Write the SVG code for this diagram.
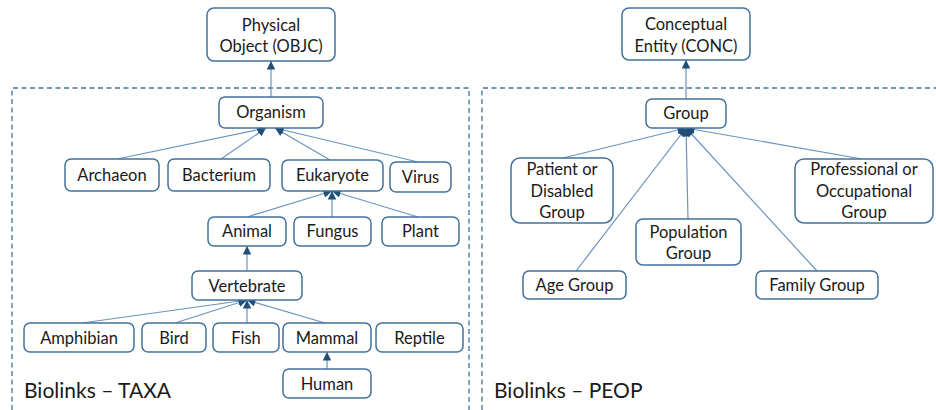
<svg xmlns="http://www.w3.org/2000/svg" width="936" height="410" viewBox="0 0 936 410">
  <defs>
    <marker id="arrow" viewBox="0 0 10 10" refX="10" refY="5" markerWidth="9" markerHeight="8.5" markerUnits="userSpaceOnUse" orient="auto">
      <path d="M0,0 L10,5 L0,10 z" fill="#1f4e79"/>
    </marker>
    <style>
      .node rect { fill: #ffffff; stroke: #41719c; stroke-width: 1.5; }
      .node text { font-family: Lato, "Liberation Sans", sans-serif; font-size: 16.5px; fill: #1a1a1a; text-anchor: middle; }
      .edge { stroke: #6a93c0; stroke-width: 1.2; fill: none; marker-end: url(#arrow); }
      .panel { fill: none; stroke: #41719c; stroke-width: 1.3; stroke-dasharray: 5 3.5; }
      .title { font-family: Lato, "Liberation Sans", sans-serif; font-size: 21px; fill: #1a1a1a; }
    </style>
  </defs>

  <rect width="936" height="410" fill="#ffffff"/>

  <!-- dashed panels -->
  <g id="panels">
    <path class="panel" d="M12,410 L12,88 L469,88 L469,410"/>
    <path class="panel" d="M482,410 L482,88 L936,88"/>
    <text class="title" x="24" y="398">Biolinks – TAXA</text>
    <text class="title" x="494" y="398">Biolinks – PEOP</text>
  </g>

  <!-- connectors -->
  <g id="connectors">
    <line class="edge" x1="271" y1="97" x2="271" y2="61"/>
    <line class="edge" x1="117" y1="159" x2="266" y2="128"/>
    <line class="edge" x1="221" y1="159" x2="266" y2="128"/>
    <line class="edge" x1="330" y1="160" x2="275" y2="128"/>
    <line class="edge" x1="418" y1="162" x2="275" y2="128"/>
    <line class="edge" x1="247" y1="217" x2="332" y2="191"/>
    <line class="edge" x1="332" y1="217" x2="332" y2="191"/>
    <line class="edge" x1="418" y1="217" x2="332" y2="191"/>
    <line class="edge" x1="247" y1="271" x2="247" y2="246"/>
    <line class="edge" x1="82" y1="323" x2="247" y2="300"/>
    <line class="edge" x1="175" y1="323" x2="247" y2="300"/>
    <line class="edge" x1="247" y1="323" x2="247" y2="300"/>
    <line class="edge" x1="325" y1="323" x2="247" y2="300"/>
    <line class="edge" x1="327" y1="369" x2="327" y2="352"/>
    <line class="edge" x1="686" y1="99" x2="686" y2="60"/>
    <line class="edge" x1="563" y1="158" x2="686" y2="128"/>
    <line class="edge" x1="576" y1="271" x2="686" y2="128"/>
    <line class="edge" x1="688" y1="219" x2="686" y2="128"/>
    <line class="edge" x1="817" y1="271" x2="686" y2="128"/>
    <line class="edge" x1="862" y1="159" x2="686" y2="128"/>
  </g>

  <!-- TAXA nodes -->
  <g id="physical-object" class="node">
    <rect x="207" y="8" width="128" height="53" rx="7"/>
    <text x="271" y="31">Physical</text>
    <text x="271" y="52">Object (OBJC)</text>
  </g>
  <g id="organism" class="node">
    <rect x="219" y="97" width="104" height="31" rx="6"/>
    <text x="271" y="118">Organism</text>
  </g>
  <g id="archaeon" class="node">
    <rect x="65" y="159" width="94" height="32" rx="6"/>
    <text x="112" y="181">Archaeon</text>
  </g>
  <g id="bacterium" class="node">
    <rect x="168" y="159" width="102" height="32" rx="6"/>
    <text x="219" y="181">Bacterium</text>
  </g>
  <g id="eukaryote" class="node">
    <rect x="282" y="160" width="101" height="31" rx="6"/>
    <text x="332.5" y="181">Eukaryote</text>
  </g>
  <g id="virus" class="node">
    <rect x="390" y="162" width="61" height="30" rx="6"/>
    <text x="420.5" y="183">Virus</text>
  </g>
  <g id="animal" class="node">
    <rect x="208" y="217" width="78" height="29" rx="6"/>
    <text x="247" y="237">Animal</text>
  </g>
  <g id="fungus" class="node">
    <rect x="294" y="217" width="77" height="29" rx="6"/>
    <text x="332.5" y="237">Fungus</text>
  </g>
  <g id="plant" class="node">
    <rect x="382" y="217" width="77" height="29" rx="6"/>
    <text x="420.5" y="237">Plant</text>
  </g>
  <g id="vertebrate" class="node">
    <rect x="192" y="271" width="110" height="29" rx="6"/>
    <text x="247" y="292">Vertebrate</text>
  </g>
  <g id="amphibian" class="node">
    <rect x="24" y="323" width="110" height="29" rx="6"/>
    <text x="79" y="344">Amphibian</text>
  </g>
  <g id="bird" class="node">
    <rect x="142" y="323" width="64" height="29" rx="6"/>
    <text x="174" y="344">Bird</text>
  </g>
  <g id="fish" class="node">
    <rect x="213" y="323" width="66" height="29" rx="6"/>
    <text x="246" y="344">Fish</text>
  </g>
  <g id="mammal" class="node">
    <rect x="283" y="323" width="88" height="29" rx="6"/>
    <text x="327" y="344">Mammal</text>
  </g>
  <g id="reptile" class="node">
    <rect x="376" y="323" width="87" height="29" rx="6"/>
    <text x="419.5" y="344">Reptile</text>
  </g>
  <g id="human" class="node">
    <rect x="283" y="369" width="88" height="29" rx="6"/>
    <text x="327" y="390">Human</text>
  </g>

  <!-- PEOP nodes -->
  <g id="conceptual-entity" class="node">
    <rect x="622" y="8" width="128" height="52" rx="7"/>
    <text x="686" y="30">Conceptual</text>
    <text x="686" y="52">Entity (CONC)</text>
  </g>
  <g id="group" class="node">
    <rect x="646" y="99" width="80" height="29" rx="6"/>
    <text x="686" y="119">Group</text>
  </g>
  <g id="patient-group" class="node">
    <rect x="511" y="158" width="102" height="65" rx="9"/>
    <text x="562" y="175">Patient or</text>
    <text x="562" y="197">Disabled</text>
    <text x="562" y="218">Group</text>
  </g>
  <g id="professional-group" class="node">
    <rect x="795" y="159" width="138" height="64" rx="9"/>
    <text x="864" y="175">Professional or</text>
    <text x="864" y="197">Occupational</text>
    <text x="864" y="218">Group</text>
  </g>
  <g id="population-group" class="node">
    <rect x="636" y="219" width="105" height="46" rx="7"/>
    <text x="688.5" y="238">Population</text>
    <text x="688.5" y="259">Group</text>
  </g>
  <g id="age-group" class="node">
    <rect x="523" y="271" width="103" height="28" rx="6"/>
    <text x="574.5" y="291">Age Group</text>
  </g>
  <g id="family-group" class="node">
    <rect x="756" y="271" width="122" height="28" rx="6"/>
    <text x="817" y="291">Family Group</text>
  </g>
</svg>
